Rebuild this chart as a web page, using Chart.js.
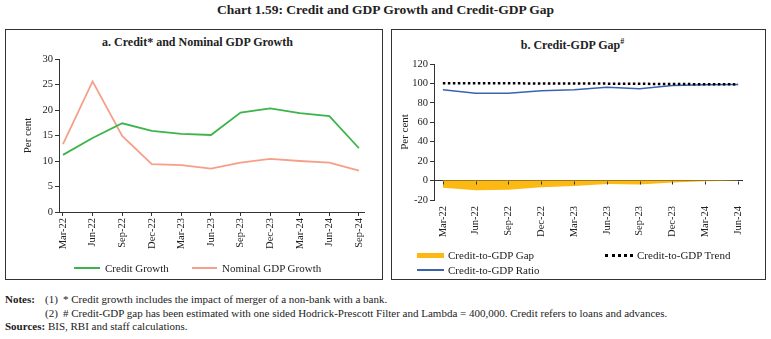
<!DOCTYPE html>
<html>
<head>
<meta charset="utf-8">
<script src="https://cdn.jsdelivr.net/npm/chart.js@4.4.1/dist/chart.umd.min.js"></script>
<style>
  body { margin: 0; width: 771px; height: 339px; background: #fff; position: relative; overflow: hidden;
         font-family: "Liberation Serif", serif; color: #222; }
  .abs { position: absolute; white-space: nowrap; }
  .box { position: absolute; border: 1px solid #333; box-sizing: border-box; }
  .sub { position: absolute; font-weight: bold; font-size: 12px; text-align: center; }
  .leg { position: absolute; font-size: 11px; line-height: 12px; }
  .note { position: absolute; font-size: 11px; line-height: 12px; white-space: nowrap; }
</style>
</head>
<body>

<div class="abs" style="left:0;width:771px;top:2px;text-align:center;font-weight:bold;font-size:13.5px;">Chart 1.59: Credit and GDP Growth and Credit-GDP Gap</div>

<div class="box" style="left:5px;top:29px;width:378px;height:251px;"></div>
<div class="box" style="left:391px;top:29px;width:375px;height:251px;"></div>

<div class="sub" style="left:5px;width:385px;top:35px;">a. Credit* and Nominal GDP Growth</div>
<div class="sub" style="left:480px;width:185px;top:37px;">b. Credit-GDP Gap<sup style="font-size:8px;">#</sup></div>

<canvas id="chart1" class="abs" style="left:6px;top:50px;width:372px;height:205px;"></canvas>
<canvas id="chart2" class="abs" style="left:392px;top:50px;width:372px;height:190px;"></canvas>

<!-- legend a -->
<div class="abs" style="left:74px;top:267px;width:26px;height:2px;background:#3cb44b;"></div>
<div class="leg" style="left:105px;top:262px;">Credit Growth</div>
<div class="abs" style="left:192px;top:267px;width:25px;height:2px;background:#f59f89;"></div>
<div class="leg" style="left:222px;top:262px;">Nominal GDP Growth</div>

<!-- legend b -->
<div class="abs" style="left:417px;top:253px;width:27px;height:5px;background:#fdb913;"></div>
<div class="leg" style="left:448px;top:249px;">Credit-to-GDP Gap</div>
<div class="abs" style="left:605px;top:254px;width:28px;height:0;border-top:3px dotted #000;"></div>
<div class="leg" style="left:637px;top:249px;">Credit-to-GDP Trend</div>
<div class="abs" style="left:417px;top:269px;width:27px;height:2px;background:#3a64ad;"></div>
<div class="leg" style="left:448px;top:264px;">Credit-to-GDP Ratio</div>

<!-- notes -->
<div class="note" style="left:5px;top:293px;"><b>Notes:</b></div>
<div class="note" style="left:45px;top:293px;">(1)</div>
<div class="note" style="left:63px;top:293px;">* Credit growth includes the impact of merger of a non-bank with a bank.</div>
<div class="note" style="left:45px;top:307px;">(2)</div>
<div class="note" style="left:63px;top:307px;"># Credit-GDP gap has been estimated with one sided Hodrick-Prescott Filter and Lambda = 400,000. Credit refers to loans and advances.</div>
<div class="note" style="left:5px;top:320px;"><b>Sources:</b> BIS, RBI and staff calculations.</div>

<script>
// ---- panel a data ----
const quartersA = ["Mar-22", "Jun-22", "Sep-22", "Dec-22", "Mar-23", "Jun-23",
                   "Sep-23", "Dec-23", "Mar-24", "Jun-24", "Sep-24"];
const creditGrowth = [11.2, 14.5, 17.4, 15.9, 15.3, 15.1, 19.5, 20.3, 19.4, 18.8, 12.5];
const nominalGdpGrowth = [13.3, 25.6, 14.9, 9.4, 9.2, 8.5, 9.7, 10.4, 10.0, 9.7, 8.1];
const ticksA = [0, 5, 10, 15, 20, 25, 30];

// ---- panel b data ----
const quartersB = ["Mar-22", "Jun-22", "Sep-22", "Dec-22", "Mar-23", "Jun-23",
                   "Sep-23", "Dec-23", "Mar-24", "Jun-24"];
const creditGdpGap = [-7.5, -10.0, -9.5, -7.0, -5.5, -3.5, -4.0, -2.0, -0.8, -0.2];
const creditGdpTrend = [100.3, 100.2, 100.1, 100.0, 99.9, 99.8, 99.6, 99.4, 99.2, 99.0];
const creditGdpRatio = [93.5, 89.8, 90.0, 92.4, 93.5, 96.0, 94.5, 97.8, 98.6, 99.0];
const ticksB = [-20, 0, 20, 40, 60, 80, 100, 120];

const tickFont = { family: "Liberation Serif", size: 10.5 };
const axisColor = "#333";

function toPoints(arr) {
  return arr.map((v, i) => ({ x: i, y: v }));
}

function xScale(labels, min, max, height, showBorder) {
  return {
    type: "linear",
    min: min,
    max: max,
    afterFit: s => { s.height = height; },
    border: { display: showBorder, color: axisColor },
    grid: { display: showBorder, drawOnChartArea: false, tickLength: 4, color: axisColor },
    ticks: {
      stepSize: 1,
      includeBounds: false,
      autoSkip: false,
      minRotation: 90,
      maxRotation: 90,
      padding: 2,
      color: "#222",
      font: tickFont,
      callback: v => labels[v] ?? ""
    }
  };
}

// small tick marks hanging from the zero line (panel b)
const zeroTicks = {
  id: "zeroTicks",
  afterDraw(chart) {
    const ctx = chart.ctx;
    const y0 = Math.round(chart.scales.y.getPixelForValue(0)) + 0.5;
    ctx.save();
    ctx.strokeStyle = axisColor;
    ctx.lineWidth = 1;
    chart.scales.x.ticks.forEach(t => {
      const x = Math.round(chart.scales.x.getPixelForValue(t.value)) + 0.5;
      ctx.beginPath();
      ctx.moveTo(x, y0);
      ctx.lineTo(x, y0 + 3);
      ctx.stroke();
    });
    ctx.restore();
  }
};

// -------------------------------
// Chart a: Credit and Nominal GDP growth
// -------------------------------
new Chart(document.getElementById("chart1"), {
  type: "line",
  data: {
    datasets: [
      { label: "Credit Growth", data: toPoints(creditGrowth), borderColor: "#3cb44b",
        borderWidth: 1.8, pointRadius: 0, tension: 0 },
      { label: "Nominal GDP Growth", data: toPoints(nominalGdpGrowth), borderColor: "#f59f89",
        borderWidth: 1.8, pointRadius: 0, tension: 0 }
    ]
  },
  options: {
    responsive: false,
    animation: false,
    layout: { padding: { left: 16, top: 9, right: 14, bottom: 0 } },
    plugins: { legend: { display: false }, tooltip: { enabled: false } },
    scales: {
      x: xScale(quartersA, -0.135, 10.17, 43, true),
      y: {
        min: ticksA[0],
        max: ticksA[ticksA.length - 1],
        afterFit: s => { s.width = 37; },
        border: { color: axisColor },
        grid: { drawOnChartArea: false, tickLength: 4, color: axisColor },
        ticks: { stepSize: 5, color: "#222", font: tickFont, padding: 2 },
        title: { display: true, text: "Per cent", color: "#222",
                 font: { family: "Liberation Serif", size: 11 }, padding: 0 }
      }
    }
  }
});

// -------------------------------
// Chart b: Credit-GDP gap
// -------------------------------
new Chart(document.getElementById("chart2"), {
  type: "line",
  data: {
    datasets: [
      { label: "Credit-to-GDP Trend", data: toPoints(creditGdpTrend), borderColor: "#000",
        borderWidth: 2.5, borderDash: [2.5, 2.5], pointRadius: 0, tension: 0 },
      { label: "Credit-to-GDP Ratio", data: toPoints(creditGdpRatio), borderColor: "#3a64ad",
        borderWidth: 1.5, pointRadius: 0, tension: 0 },
      { label: "Credit-to-GDP Gap", data: toPoints(creditGdpGap), borderColor: "#fdb913",
        backgroundColor: "#fdb913", borderWidth: 0, fill: "origin", pointRadius: 0, tension: 0 }
    ]
  },
  options: {
    responsive: false,
    animation: false,
    layout: { padding: { left: 7, top: 14, right: 21, bottom: 0 } },
    plugins: { legend: { display: false }, tooltip: { enabled: false } },
    scales: {
      x: xScale(quartersB, -0.27, 9.15, 40, false),
      y: {
        min: ticksB[0],
        max: ticksB[ticksB.length - 1],
        afterFit: s => { s.width = 35; },
        border: { color: axisColor },
        grid: {
          tickLength: 4,
          tickColor: axisColor,
          color: c => (c.tick && c.tick.value === 0 ? axisColor : "rgba(0,0,0,0)")
        },
        ticks: { stepSize: 20, color: "#222", font: tickFont, padding: 2 },
        title: { display: true, text: "Per cent", color: "#222",
                 font: { family: "Liberation Serif", size: 11 }, padding: 0 }
      }
    }
  },
  plugins: [zeroTicks]
});
</script>
</body>
</html>
